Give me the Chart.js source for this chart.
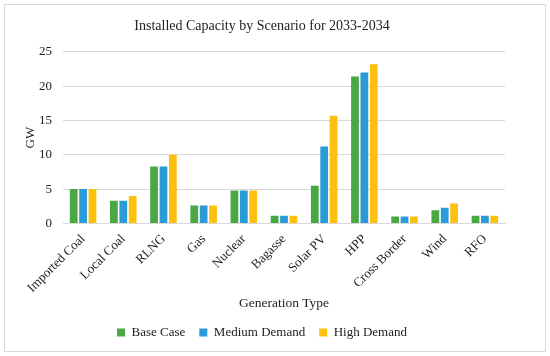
<!DOCTYPE html>
<html>
<head>
<meta charset="utf-8">
<script src="https://cdn.jsdelivr.net/npm/chart.js@4"></script>
<style>
  html, body { margin: 0; padding: 0; background: #fff; }
  #wrap { width: 550px; height: 356px; position: relative; }
</style>
</head>
<body>
<div id="wrap"><canvas id="capacityChart" width="550" height="356"></canvas></div>
<script>
const categories = ['Imported Coal', 'Local Coal', 'RLNG', 'Gas', 'Nuclear', 'Bagasse', 'Solar PV', 'HPP', 'Cross Border', 'Wind', 'RFO'];
const baseCase = [5.0, 3.3, 8.3, 2.6, 4.8, 1.1, 5.5, 21.4, 1.0, 1.9, 1.1];
const mediumDemand = [5.0, 3.3, 8.3, 2.6, 4.8, 1.1, 11.2, 22.0, 1.0, 2.3, 1.1];
const highDemand = [5.0, 4.0, 10.0, 2.6, 4.8, 1.1, 15.7, 23.2, 1.0, 2.9, 1.1];
const yTicks = [0, 5, 10, 15, 20, 25];

const serif = "'Liberation Serif', 'DejaVu Serif', serif";

// marco gris alrededor del grafico
const frame = {
  id: 'frame',
  beforeDraw(chart) {
    const ctx = chart.ctx;
    ctx.save();
    ctx.fillStyle = '#fff';
    ctx.fillRect(0, 0, chart.width, chart.height);
    ctx.strokeStyle = '#d9d9d9';
    ctx.lineWidth = 1;
    ctx.strokeRect(4.5, 4.5, chart.width - 9, chart.height - 9);
    ctx.restore();
  }
};

new Chart(document.getElementById('capacityChart'), {
  type: 'bar',
  data: {
    labels: categories,
    datasets: [
      { label: 'Base Case', data: baseCase, backgroundColor: '#4aa844' },
      { label: 'Medium Demand', data: mediumDemand, backgroundColor: '#2a9bd8' },
      { label: 'High Demand', data: highDemand, backgroundColor: '#fdc00e' }
    ]
  },
  options: {
    responsive: false,
    animation: false,
    layout: { padding: { left: 19, right: 45, top: 8, bottom: 7 } },
    datasets: {
      bar: { categoryPercentage: 0.7, barPercentage: 0.83 }
    },
    plugins: {
      title: {
        display: true,
        text: 'Installed Capacity by Scenario for 2033-2034',
        color: '#222',
        font: { family: serif, size: 14, weight: 'normal' },
        padding: { top: 10, bottom: 17 }
      },
      legend: {
        position: 'bottom',
        labels: {
          color: '#222',
          boxWidth: 8,
          boxHeight: 8,
          padding: 14,
          font: { family: serif, size: 13 }
        }
      },
      tooltip: { enabled: false }
    },
    scales: {
      x: {
        // la etiqueta rotada de la izquierda no debe empujar el area del grafico
        afterFit: s => { s.paddingLeft = 0; s.paddingRight = 0; },
        grid: { display: false },
        border: { color: '#d9d9d9' },
        ticks: {
          color: '#222',
          maxRotation: 45,
          minRotation: 45,
          padding: 0,
          font: { family: serif, size: 13 }
        },
        title: {
          display: true,
          text: 'Generation Type',
          color: '#222',
          font: { family: serif, size: 13.5 },
          padding: { top: 0, bottom: 0 }
        }
      },
      y: {
        min: 0,
        max: 25,
        afterBuildTicks: axis => { axis.ticks = yTicks.map(v => ({ value: v })); },
        afterFit: s => { s.width = 44; },
        grid: { color: '#d9d9d9', drawTicks: false },
        border: { display: false },
        ticks: {
          color: '#222',
          padding: 11,
          font: { family: serif, size: 13 }
        },
        title: {
          display: true,
          text: 'GW',
          color: '#222',
          font: { family: serif, size: 13 },
          padding: { top: 4, bottom: 0 }
        }
      }
    }
  },
  plugins: [frame]
});
</script>
</body>
</html>
